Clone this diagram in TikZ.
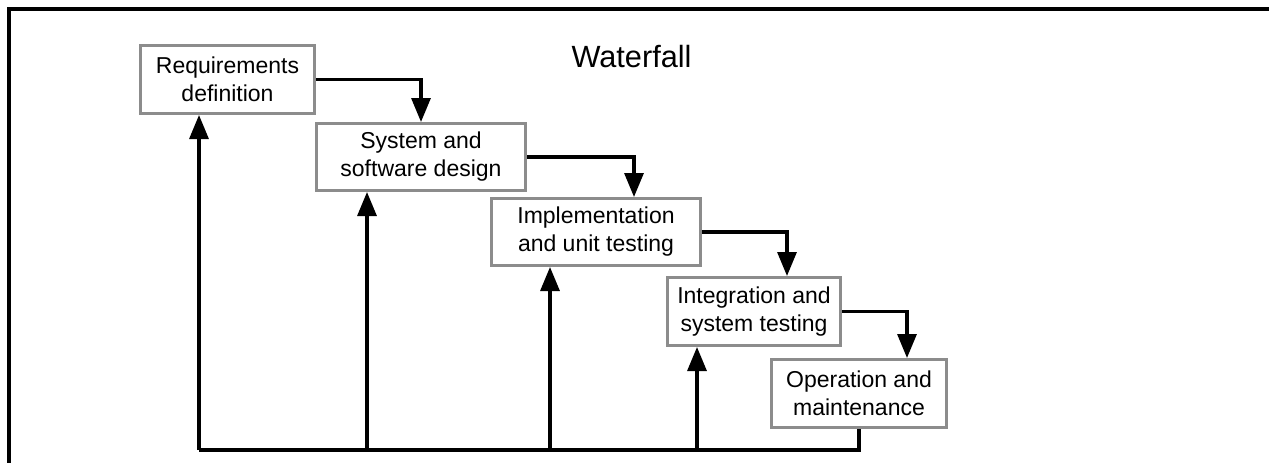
\documentclass[tikz,border=0pt]{standalone}
\usepackage{fontspec}
\setmainfont{Liberation Sans}
\usetikzlibrary{arrows.meta}
\definecolor{boxgray}{HTML}{8C8C8C}
\tikzset{
  stage/.style={draw=boxgray, line width=3pt, fill=white, inner sep=0pt,
    align=center, font=\fontsize{23}{28}\selectfont},
  arr/.style={line width=3.2pt, -{Triangle[length=24pt,width=19pt]}},
  link/.style={line width=3.2pt}
}
\begin{document}
\begin{tikzpicture}[x=1pt,y=-1pt]
\useasboundingbox (0,0) rectangle (1269,463);
\fill[white] (0,0) rectangle (1269,463);
% frame
\draw[line width=4pt] (1269,9) -- (8.5,9) -- (8.5,463);
% title
\node[font=\fontsize{30.7}{36}\selectfont] (title) at (631.5,57) {Waterfall};
% stages
\node[stage, minimum width=174pt, minimum height=68pt] (r) at (227.5,79.5) {Requirements\\definition};
\node[stage, minimum width=209pt, minimum height=67pt] (s) at (421,157) {System and\\software design};
\node[stage, minimum width=209pt, minimum height=67pt] (i) at (596,232) {Implementation\\and unit testing};
\node[stage, minimum width=173pt, minimum height=68pt] (n) at (754,311.5) {Integration and\\system testing};
\node[stage, minimum width=175pt, minimum height=68pt] (o) at (859,393.5) {Operation and\\maintenance};
% forward arrows
\draw[arr] (r.east) -| (s.north);
\draw[arr] (s.east) -| ([xshift=38pt]i.north);
\draw[arr] (i.east) -| ([xshift=33pt]n.north);
\draw[arr] (n.east) -| ([xshift=48pt]o.north);
% feedback
\coordinate (b1) at (199,450);
\coordinate (b2) at (367,450);
\coordinate (b3) at (550,450);
\coordinate (b4) at (697,450);
\draw[link, line join=miter] (o.south) -- (o.south |- b1) -- (b1);
\draw[arr] (b1) -- (b1 |- r.south);
\draw[arr] (b2) -- (b2 |- s.south);
\draw[arr] (b3) -- (b3 |- i.south);
\draw[arr] (b4) -- (b4 |- n.south);
\end{tikzpicture}
\end{document}
